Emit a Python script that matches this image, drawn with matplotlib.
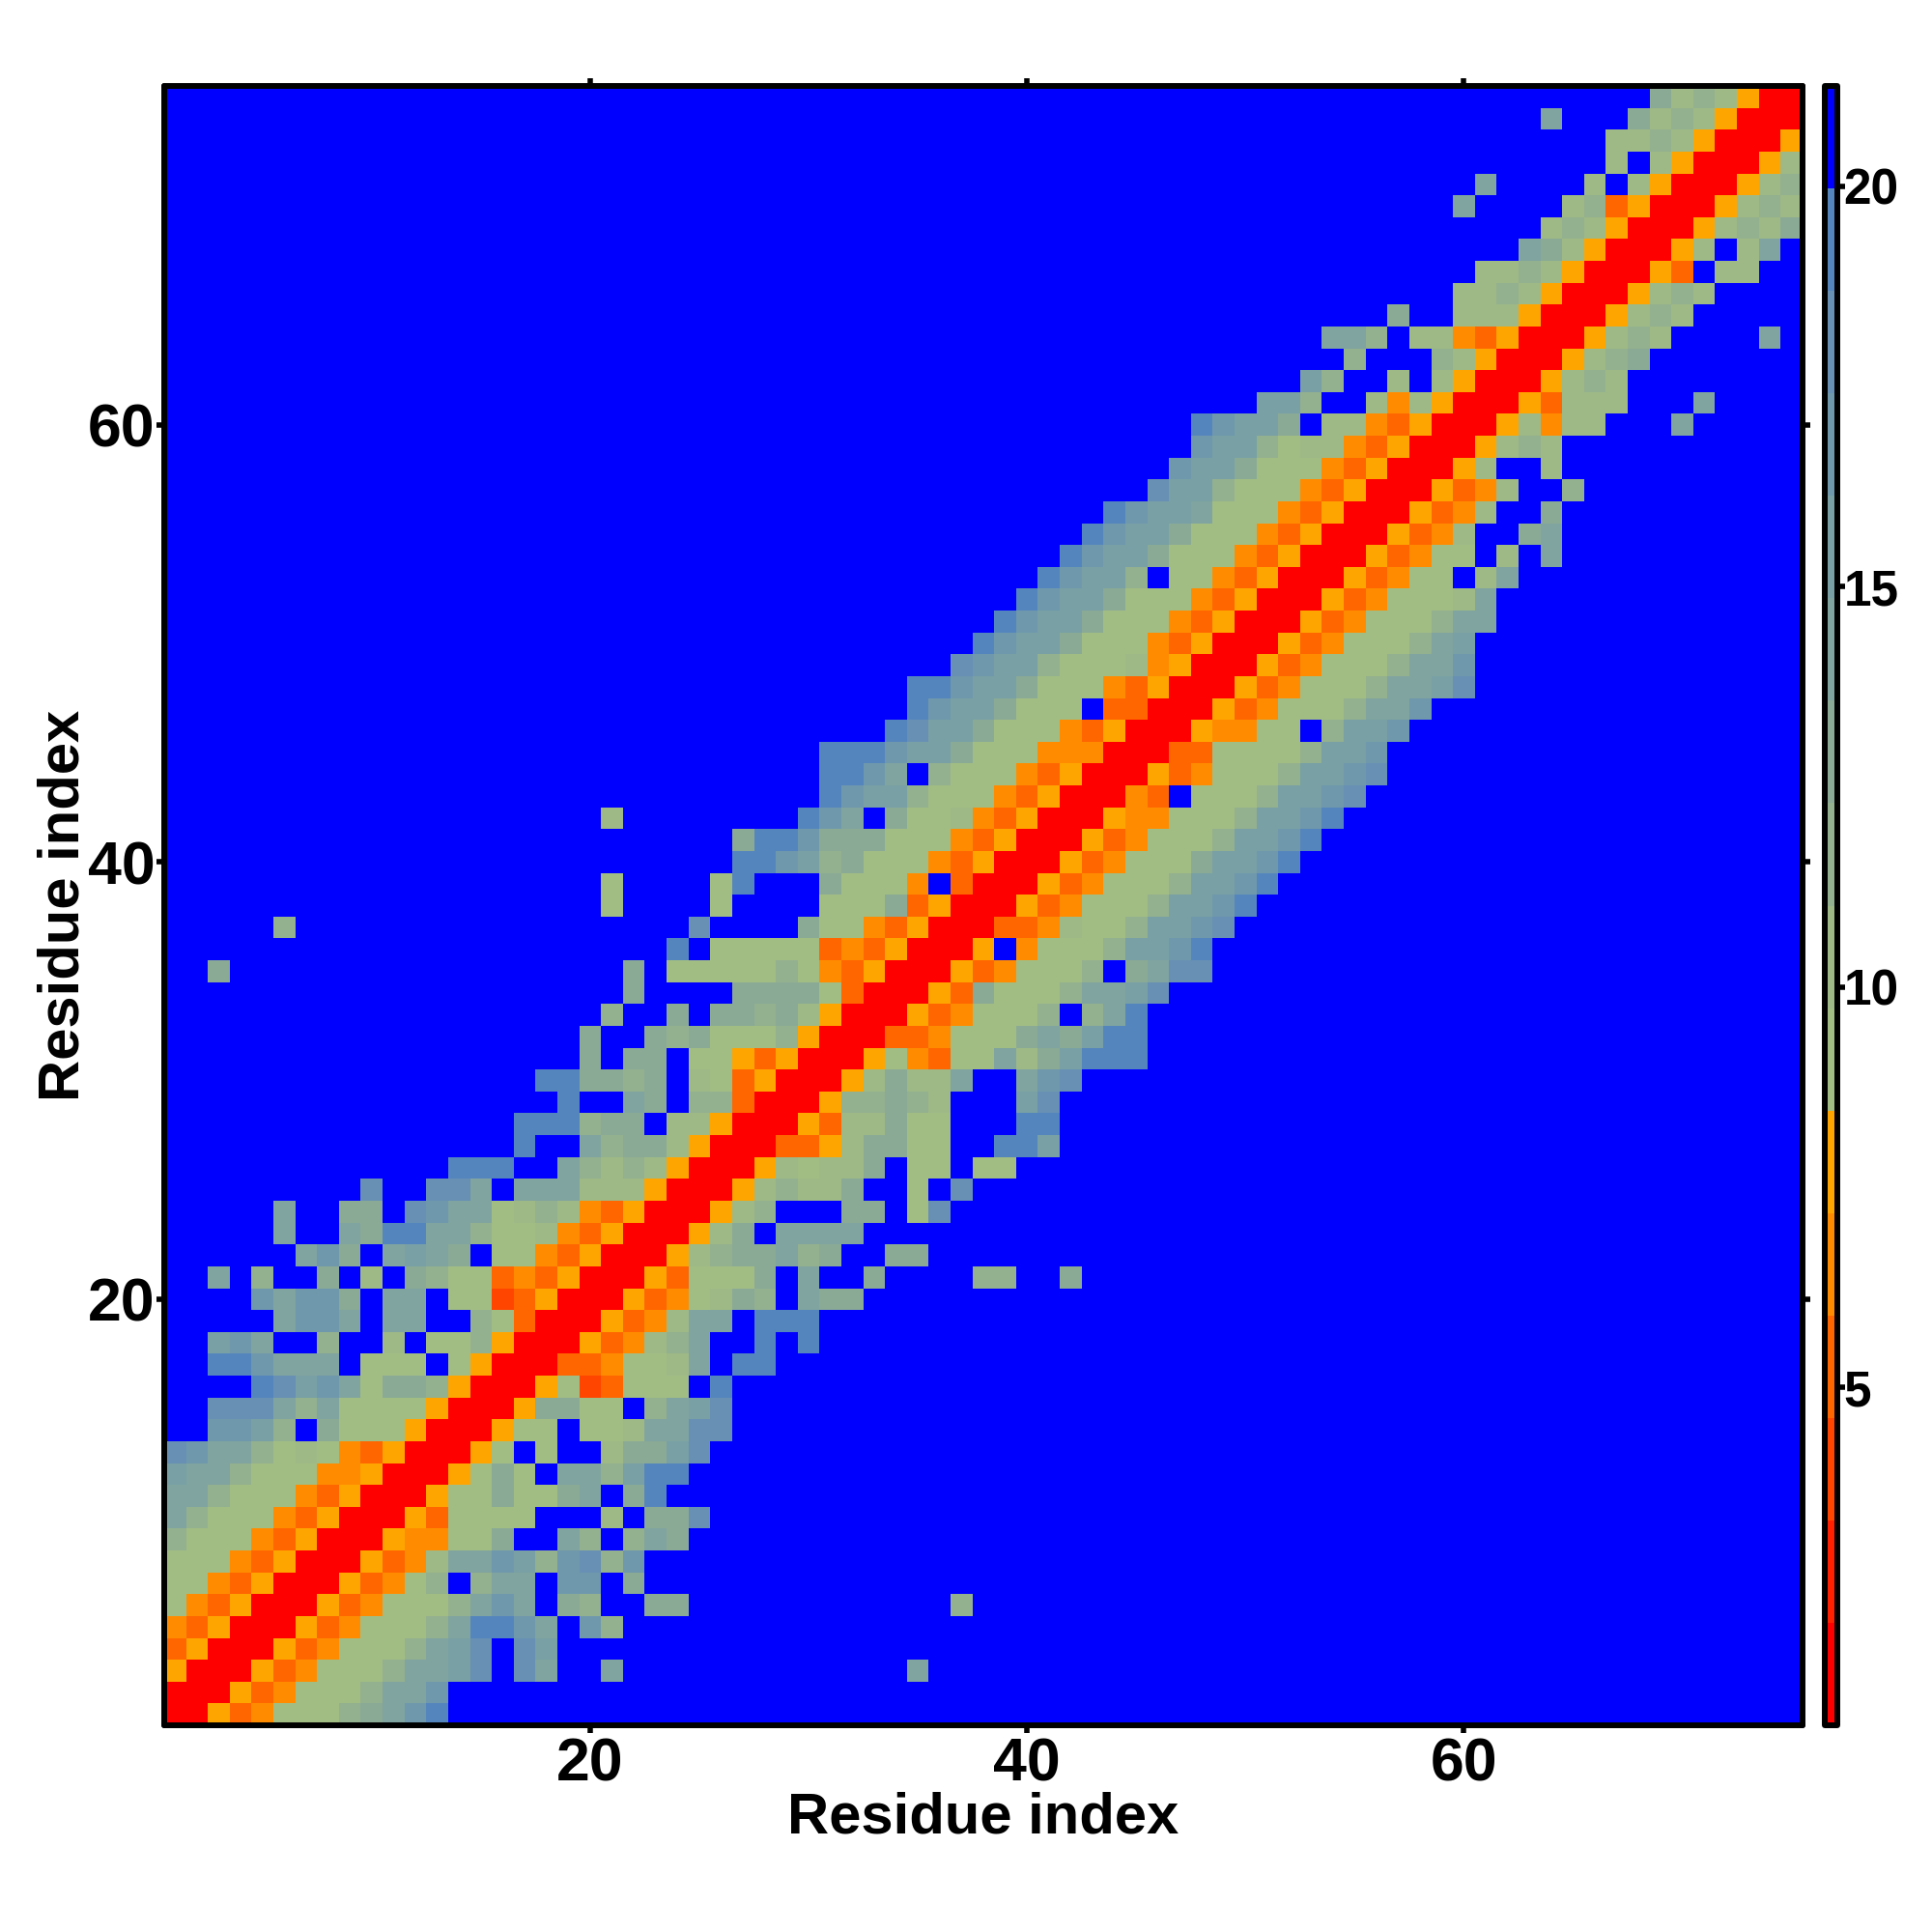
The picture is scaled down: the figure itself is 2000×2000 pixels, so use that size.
#!/usr/bin/env python3
# -*- coding: utf-8 -*-

import numpy as np
import matplotlib
matplotlib.use("Agg")
import matplotlib.pyplot as plt
from matplotlib.colors import ListedColormap, BoundaryNorm

plt.rcParams["font.family"] = ["Liberation Sans", "DejaVu Sans"]
plt.rcParams["font.weight"] = "bold"

N_RES = 75

# colour bands of the bar, bottom to top
BAND_COLORS = ["#ff0000", "#ff2000", "#ff4500", "#ff6600", "#ff8c00", "#ffa500",
               "#a2bd83", "#9eb986", "#93b08f", "#8aaa96", "#80a49f", "#78a0a5",
               "#6f98ac", "#6790b4", "#5585bd", "#0000ff"]
BAND_LOW = 0.78
BAND_HIGH = 21.25

# first residue of each row's band (row 1 first)
ROW_START = [1, 1, 1, 1, 1, 1, 1, 1, 1, 1,
             1, 1, 1, 3, 3, 5, 3, 3, 6, 5,
             3, 7, 6, 6, 10, 14, 17, 17, 19, 18,
             20, 20, 21, 22, 22, 24, 25, 21, 21, 27,
             27, 30, 31, 31, 31, 34, 35, 35, 37, 38,
             39, 40, 41, 42, 43, 44, 46, 47, 48, 48,
             51, 53, 55, 54, 57, 60, 61, 63, 64, 65,
             66, 67, 67, 68, 69]

# band number per residue in hex, from ROW_START on (f = beyond the top band)
ROW_CELLS = [
    "0053466689ace",
    "0005346668aac",
    "50005346668aabdfda",
    "350005346668abdfdb",
    "4350005346668aeecafc8",
    "64350005346668acaf98ff99",
    "6643500053468f8aafccf9",
    "6664350005347aacb8cd8c",
    "8666435000544669ffa8f8a9",
    "a8666435000536666fff7f99d",
    "aa86664350005669669af9e",
    "baa86664450005696faa8bee",
    "dcaa867643500056f6ff799bd",
    "ccb8f96665000566f667aadd",
    "ddda8a6666500059966f8abd",
    "edbca699850005623666fe",
    "eecaaaf666f65000334667afee",
    "bcaff8ff7f668500053478affefe",
    "accafaaff8630005347aafeee",
    "cacc9faaf662350005346798fa99",
    "af8ff9f7f98663435000536669faff9",
    "ac9faba9f6643500057899a89ff99",
    "affa9eeaa8667435000579faaaa",
    "aff99fdcaa6787435000578fff99f6d",
    "dffddafaaa7775000578779ff6fd",
    "eeeffa87875000576779f66f66",
    "effa8997500033579966ffeeb",
    "eee899f7750005377966fffee",
    "effa9f883000588987fffbd",
    "ee9989f763500057977affacd",
    "9f99f66535000564366a79beee",
    "9ff989666850003346669a9bee",
    "8ff9f9989750005346668f8ae",
    "9ffff9999630005396668aabd",
    "9f66666864350005346668f9add",
    "ef6666634350005f46668bbce",
    "dffff9664350003347668bbcd",
    "6ffff6ffff6669350005346668bbce",
    "6ffff6efff96664f30005346668bbce",
    "eecb896664350005346669bbce",
    "9eec9996664350005346668bbce",
    "ecaf96674350005446668bbce",
    "ecbb866643500043f6668bbcd",
    "eecaf86664350005346668bbcd",
    "eeecbb96664440003366668bbc",
    "edbb966643500054466f8bbc",
    "ecbb9666f330005346668aac",
    "eecbb96664350005346668aabd",
    "dcbb86667450005346668aac",
    "ecbb96664350005346668ab",
    "ecbb96664350005346668aa",
    "ecbb96664350005346667a",
    "ecbb8f6643500053466f7a",
    "ecbb966643500053466f7fa",
    "ecbb96664350005347ff9a",
    "ecbba6664350005347ff9",
    "dbb86664350005347ff8",
    "cbb966643500057ff7",
    "cbb86774350005787",
    "ecbb9f7743500057477",
    "bb8ff747500053777",
    "b8ff7f750005787",
    "8fff8750005789",
    "aa8f774350005787",
    "9ff77750005787",
    "778750005787",
    "7787500053f77",
    "a97500057f7a",
    "787500057879",
    "78350005787",
    "7f75000578",
    "7f7500057",
    "778750005",
    "97875000",
    "9787500",
]

# cells away from the band
SPECK_ROW = [6, 3, 3, 21, 21, 21, 35, 37, 42, 60, 61, 64, 70, 71, 74]
SPECK_COL = [37, 21, 35, 38, 39, 42, 3, 6, 21, 70, 71, 74, 60, 61, 64]
SPECK_BAND = [8, 10, 10, 8, 8, 9, 9, 8, 7, 10, 10, 10, 10, 10, 10]

X_TICKS = [20, 40, 60]
Y_TICKS = [20, 40, 60]
BAR_TICKS = [5, 10, 15, 20]
AXIS_LABEL = "Residue index"


def build_matrix():
    bands = np.full((N_RES, N_RES), 15, dtype=int)
    for i, (start, cells) in enumerate(zip(ROW_START, ROW_CELLS)):
        for j, ch in enumerate(cells):
            bands[i, start - 1 + j] = int(ch, 16)
    for r, c, b in zip(SPECK_ROW, SPECK_COL, SPECK_BAND):
        bands[r - 1, c - 1] = b
    edges = np.linspace(BAND_LOW, BAND_HIGH, len(BAND_COLORS) + 1)
    centres = 0.5 * (edges[:-1] + edges[1:])
    return centres[bands], edges


def style_axes(ax):
    for spine in ax.spines.values():
        spine.set_linewidth(4.3)
        spine.set_capstyle("round")
        spine.set_joinstyle("round")


def main():
    matrix, edges = build_matrix()
    cmap = ListedColormap(BAND_COLORS)
    norm = BoundaryNorm(edges, cmap.N)

    fig = plt.figure(figsize=(20, 20), dpi=100)
    ax = fig.add_axes([170 / 2000, 1 - 1786 / 2000, 1696 / 2000, 1697 / 2000])
    im = ax.imshow(matrix, origin="lower", cmap=cmap, norm=norm, aspect="auto",
                   interpolation="nearest", extent=(0.5, N_RES + 0.5, 0.5, N_RES + 0.5))
    ax.set_xticks(X_TICKS)
    ax.set_yticks(Y_TICKS)
    ax.tick_params(axis="both", which="major", length=5.5, width=4, labelsize=45,
                   top=True, right=True, pad=3)
    ax.tick_params(axis="y", pad=1.5)
    ax.set_xlabel(AXIS_LABEL, fontsize=43, fontweight="bold", labelpad=-2)
    ax.set_ylabel(AXIS_LABEL, fontsize=43, fontweight="bold", labelpad=-2.5)
    style_axes(ax)

    cax = fig.add_axes([1889 / 2000, 1 - 1786 / 2000, 13 / 2000, 1697 / 2000])
    cbar = fig.colorbar(im, cax=cax, spacing="proportional", ticks=BAR_TICKS)
    cbar.outline.set_linewidth(4.3)
    cbar.outline.set_capstyle("round")
    cbar.outline.set_joinstyle("round")
    cax.tick_params(length=5.5, width=4, labelsize=37, pad=-1)
    cax.minorticks_off()

    fig.savefig("out.png", dpi=100, facecolor="white")


if __name__ == "__main__":
    main()
